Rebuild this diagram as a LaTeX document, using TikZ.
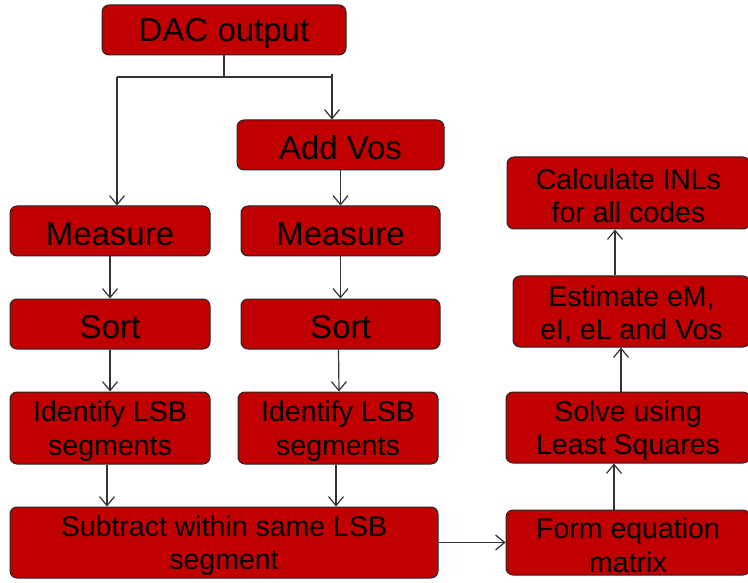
\documentclass[tikz,border=0pt]{standalone}
\usepackage{fontspec}
\setmainfont{Liberation Sans}
\usetikzlibrary{arrows.meta,calc}
\definecolor{boxred}{HTML}{C00000}
\definecolor{linegray}{HTML}{333333}
\tikzset{
  box/.style={draw=black!85, line width=1pt, fill=boxred, rounded corners=7pt,
    inner sep=0pt},
  boxtext/.style={inner sep=0pt, align=center, text=black},
  big/.style={font=\fontsize{33}{36}\selectfont},
  small/.style={font=\fontsize{28.5}{33.5}\selectfont},
  arr/.style={draw=linegray, line width=1.2pt, -{Straight Barb[length=9pt,width=15pt,line width=1.2pt]}},
  ln/.style={draw=linegray, line width=1.2pt},
}
\newcommand{\bx}[7]{% name, x1, y1, x2, y2, style, text
  \node[box, minimum width={#4pt-#2pt}, minimum height={#5pt-#3pt}] (#1) at ({(#2+#4)/2 pt}, {-(#3+#5)/2 pt}) {};
  \node[boxtext,#6] (#1-t) at ($(#1.center)+(0,-3)$) {#7};}
\begin{document}
\begin{tikzpicture}[x=1pt,y=1pt]
\useasboundingbox (0,0) rectangle (748,-583);
\bx{dac}{102}{5}{346}{55}{big}{DAC output}
\bx{addvos}{237}{120}{444}{170}{big}{Add Vos}
\bx{measL}{10}{206}{210}{256}{big}{Measure}
\bx{measR}{241}{206}{440}{256}{big}{Measure}
\bx{sortL}{10}{299}{210}{349}{big}{Sort}
\bx{sortR}{241}{299}{440}{349}{big}{Sort}
\bx{idL}{10}{392}{210}{464}{small}{Identify LSB\\segments}
\bx{idR}{238}{392}{438}{464}{small}{Identify LSB\\segments}
\bx{sub}{10}{507}{438}{578}{small}{Subtract within same LSB\\segment}
\bx{form}{506}{510}{750}{575}{small}{Form equation\\matrix}
\bx{solve}{506}{392}{750}{463}{small}{Solve using\\Least Squares}
\bx{est}{513}{276}{750}{347}{small}{Estimate eM,\\eI, eL and Vos}
\bx{calc}{507}{157}{750}{229}{small}{Calculate INLs\\for all codes}
% top split
\coordinate (jl) at (117,-77);
\coordinate (jr) at (332,-77);
\draw[ln] (dac.south) -- (dac.south |- jl);
\draw[ln] (jl) -- (jr);
\draw[ln] (jr) -- ++(0,3);
\draw[arr] (jl) -- (jl |- measL.north);
\draw[arr] (jr) -- (jr |- addvos.north);
\draw[arr] (addvos.south) -- (measR.north);
\draw[arr] (measL.south) -- (sortL.north);
\draw[arr] (measR.south) -- (sortR.north);
\draw[arr] (sortL.south) -- (idL.north);
\draw[arr] ($(sortR.south)+(-2,0)$) -- ($(idR.north)+(1,0)$);
\coordinate (xl) at (107,0);
\coordinate (xr) at (336,0);
\draw[arr] (xl |- idL.south) -- (xl |- sub.north);
\draw[arr] (xr |- idR.south) -- (xr |- sub.north);
\draw[arr] (sub.east) -- (form.west);
\coordinate (x1) at (614,0);
\coordinate (x2) at (621,0);
\coordinate (x3) at (615,0);
\draw[arr] (x1 |- form.north) -- (x1 |- solve.south);
\draw[arr] (x2 |- solve.north) -- (x2 |- est.south);
\draw[arr] (x3 |- est.north) -- (x3 |- calc.south);
\end{tikzpicture}
\end{document}
